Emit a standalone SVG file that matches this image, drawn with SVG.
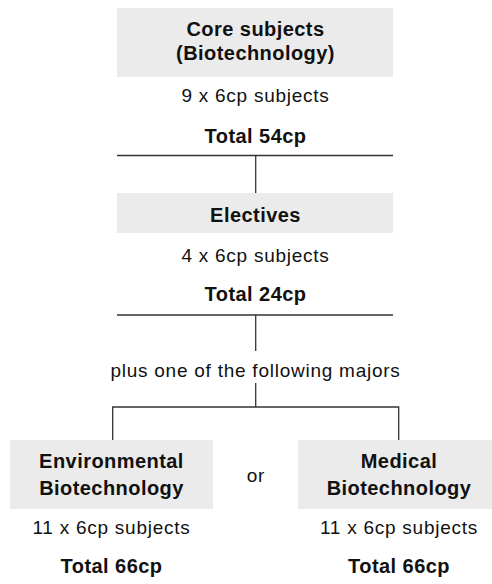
<svg xmlns="http://www.w3.org/2000/svg" width="492" height="584" viewBox="0 0 492 584">
<style>
.box{fill:#ebebeb}
.t{font-family:"Liberation Sans",Arial,sans-serif;fill:#111;text-anchor:middle}
.b{font-weight:bold;font-size:20px;letter-spacing:0.45px}
.r{font-size:19px;letter-spacing:0.75px}
.ln{stroke:#333;stroke-width:1.3;fill:none}
</style>
<rect width="492" height="584" fill="#fff"/>
<g id="connectors">
<line class="ln" x1="117" y1="155.5" x2="393" y2="155.5"/>
<line class="ln" x1="255.7" y1="155.5" x2="255.7" y2="193"/>
<line class="ln" x1="117" y1="315" x2="393" y2="315"/>
<line class="ln" x1="255.7" y1="315" x2="255.7" y2="351"/>
<line class="ln" x1="255.7" y1="383" x2="255.7" y2="407"/>
<polyline class="ln" points="112.7,440 112.7,407 398.7,407 398.7,440"/>
</g>
<g id="core">
<rect class="box" x="117" y="8" width="276" height="69"/>
<text class="t b" x="255.5" y="36">Core subjects</text>
<text class="t b" x="255.5" y="60">(Biotechnology)</text>
<text class="t r" x="255.5" y="101.5">9 x 6cp subjects</text>
<text class="t b" x="255.5" y="142.5">Total 54cp</text>
</g>
<g id="electives">
<rect class="box" x="117" y="193" width="276" height="40"/>
<text class="t b" x="255.5" y="221.5">Electives</text>
<text class="t r" x="255.5" y="261.5">4 x 6cp subjects</text>
<text class="t b" x="255.5" y="300.5">Total 24cp</text>
</g>
<g id="plus">
<text class="t r" x="255.5" y="376.5">plus one of the following majors</text>
</g>
<g id="environmental">
<rect class="box" x="10" y="440" width="203" height="69"/>
<text class="t b" x="111.5" y="468">Environmental</text>
<text class="t b" x="111.5" y="495">Biotechnology</text>
<text class="t r" x="111.5" y="534">11 x 6cp subjects</text>
<text class="t b" x="111.5" y="573">Total 66cp</text>
</g>
<g id="or">
<text class="t r" x="256" y="482">or</text>
</g>
<g id="medical">
<rect class="box" x="298" y="440" width="202" height="69"/>
<text class="t b" x="399" y="468">Medical</text>
<text class="t b" x="399" y="495">Biotechnology</text>
<text class="t r" x="399" y="534">11 x 6cp subjects</text>
<text class="t b" x="399" y="573">Total 66cp</text>
</g>
</svg>
